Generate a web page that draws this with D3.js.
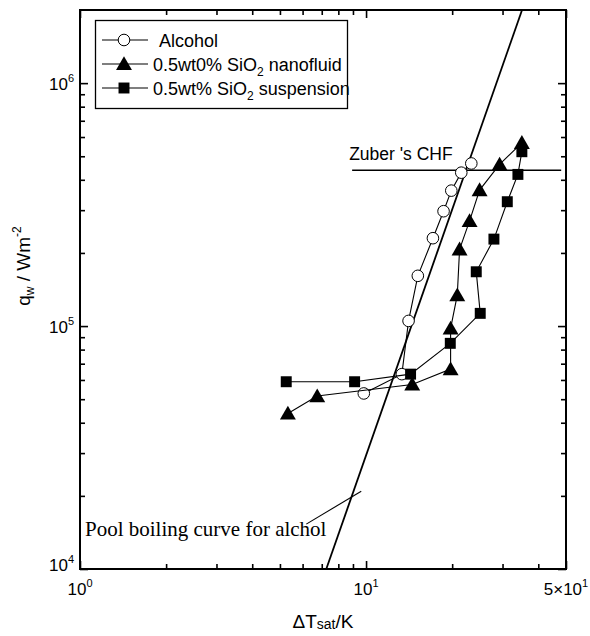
<!DOCTYPE html>
<html>
<head>
<meta charset="utf-8">
<script src="https://cdn.jsdelivr.net/npm/d3@7"></script>
<style>
  body { margin: 0; background: #fff; }
  svg { display: block; font-family: "Liberation Sans", Arial, sans-serif; }
</style>
</head>
<body>
<svg id="chart"></svg>
<script>
// values
const alcoholDT = [9.82, 13.34, 14.08, 15.17, 17.13, 18.66, 19.86, 21.52, 23.33];
const alcoholQ = [5.28e4, 6.34e4, 1.05e5, 1.61e5, 2.30e5, 2.97e5, 3.61e5, 4.28e5, 4.67e5];

const nanoDT = [5.33, 6.75, 14.5, 19.75, 19.75, 20.84, 21.23, 23.01, 24.94, 29.3, 35.05];
const nanoQ = [4.37e4, 5.15e4, 5.75e4, 6.65e4, 9.78e4, 1.34e5, 2.07e5, 2.71e5, 3.63e5, 4.63e5, 5.68e5];

const suspDT = [5.26, 9.12, 14.31, 19.7, 25.07, 24.28, 27.99, 31.17, 33.95, 35.05];
const suspQ = [5.9e4, 5.9e4, 6.34e4, 8.49e4, 1.128e5, 1.673e5, 2.28e5, 3.25e5, 4.21e5, 5.22e5];

const poolDT = [7.26, 35.1];
const poolQ = [1e4, 2e6];
const poolLeaderDT = [6.18, 9.62];
const poolLeaderQ = [1.53e4, 2.09e4];

const zuberDT = [8.94, 48.1];
const zuberQ = [4.38e5, 4.38e5];

const xMajor = [1, 10, 50];
const xMajorLabels = [["10", "0"], ["10", "1"], ["5\u00d710", "1"]];
const xMinor = [2, 3, 4, 5, 6, 7, 8, 9, 20, 30, 40];
const yMajor = [1e4, 1e5, 1e6];
const yMajorLabels = [["10", "4"], ["10", "5"], ["10", "6"]];
const yMinor = [2e4, 3e4, 4e4, 5e4, 6e4, 7e4, 8e4, 9e4, 2e5, 3e5, 4e5, 5e5, 6e5, 7e5, 8e5, 9e5];

const legendNames = ["Alcohol", "0.5wt0% SiO", "0.5wt% SiO"];

const W = 590, H = 636;
const margin = { top: 10, right: 24, bottom: 67, left: 80 };
const width = W - margin.left - margin.right;
const height = H - margin.top - margin.bottom;

const svg = d3.select("#chart").attr("width", W).attr("height", H);
const g = svg.append("g").attr("transform", "translate(" + margin.left + "," + margin.top + ")");

const x = d3.scaleLog().domain([1, 50]).range([0, width]);
const y = d3.scaleLog().domain([1e4, 2e6]).range([height, 0]);

// ticks on all four sides, pointing inwards
function tickAxis(axisFn, scale, vals, size, tr) {
  const a = g.append("g")
    .attr("transform", tr)
    .call(axisFn(scale).tickValues(vals).tickSize(size).tickFormat(""));
  a.select(".domain").remove();
  a.selectAll("line").attr("stroke", "#000").attr("stroke-width", 1.6);
}
tickAxis(d3.axisTop, x, xMajor, 8, "translate(0," + height + ")");
tickAxis(d3.axisTop, x, xMinor, 5, "translate(0," + height + ")");
tickAxis(d3.axisBottom, x, xMajor, 8, "translate(0,0)");
tickAxis(d3.axisBottom, x, xMinor, 5, "translate(0,0)");
tickAxis(d3.axisRight, y, yMajor, 8, "translate(0,0)");
tickAxis(d3.axisRight, y, yMinor, 5, "translate(0,0)");
tickAxis(d3.axisLeft, y, yMajor, 8, "translate(" + width + ",0)");
tickAxis(d3.axisLeft, y, yMinor, 5, "translate(" + width + ",0)");

g.append("rect")
  .attr("width", width).attr("height", height)
  .attr("fill", "none").attr("stroke", "#000").attr("stroke-width", 2);

// tick labels
xMajor.forEach((v, i) => {
  const t = g.append("text")
    .attr("x", x(v)).attr("y", height + 26)
    .attr("text-anchor", "middle").attr("font-size", 17);
  t.append("tspan").text(xMajorLabels[i][0]);
  t.append("tspan").attr("dy", -8).attr("font-size", 11).text(xMajorLabels[i][1]);
});
yMajor.forEach((v, i) => {
  const t = g.append("text")
    .attr("x", -6).attr("y", y(v) + (v === 1e4 ? 2 : 7))
    .attr("text-anchor", "end").attr("font-size", 17);
  t.append("tspan").text(yMajorLabels[i][0]);
  t.append("tspan").attr("dy", -8).attr("font-size", 11).text(yMajorLabels[i][1]);
});

// axis titles
const xt = svg.append("text")
  .attr("x", margin.left + width / 2).attr("y", 628)
  .attr("text-anchor", "middle").attr("font-size", 19);
xt.append("tspan").text("\u0394T");
xt.append("tspan").attr("font-size", 14).attr("dy", 1).text("sat");
xt.append("tspan").attr("dy", -1).text("/K");

const yt = svg.append("text")
  .attr("transform", "translate(30,266) rotate(-90)")
  .attr("text-anchor", "middle").attr("font-size", 19);
yt.append("tspan").text("q");
yt.append("tspan").attr("font-size", 12).attr("dy", 4).text("w");
yt.append("tspan").attr("dy", -4).text(" / Wm");
yt.append("tspan").attr("font-size", 12).attr("dy", -9).text("-2");

const line = d3.line().x(d => x(d[0])).y(d => y(d[1]));
const pairs = (a, b) => a.map((v, i) => [v, b[i]]);

// pool boiling curve and Zuber CHF
g.append("path").attr("d", line(pairs(poolDT, poolQ)))
  .attr("fill", "none").attr("stroke", "#000").attr("stroke-width", 1.8);
g.append("path").attr("d", line(pairs(poolLeaderDT, poolLeaderQ)))
  .attr("fill", "none").attr("stroke", "#000").attr("stroke-width", 1.1);
g.append("path").attr("d", line(pairs(zuberDT, zuberQ)))
  .attr("fill", "none").attr("stroke", "#000").attr("stroke-width", 1.3);

g.append("text")
  .attr("x", x(zuberDT[0]) - 3).attr("y", y(zuberQ[0]) - 10)
  .attr("font-size", 17.5).text("Zuber 's CHF");
g.append("text")
  .attr("x", 5).attr("y", y(poolLeaderQ[0]) + 12)
  .attr("font-family", "'Liberation Serif', 'Times New Roman', serif")
  .attr("font-size", 21).text("Pool boiling curve for alchol");

// series
const tri = d3.symbol().type(d3.symbolTriangle).size(110);
const sq = d3.symbol().type(d3.symbolSquare).size(120);

function series(dt, q, kind) {
  const pts = pairs(dt, q);
  g.append("path").attr("d", line(pts))
    .attr("fill", "none").attr("stroke", "#000").attr("stroke-width", 1.1);
  const m = g.append("g").selectAll("path").data(pts).enter();
  if (kind === "circle") {
    m.append("circle")
      .attr("cx", d => x(d[0])).attr("cy", d => y(d[1])).attr("r", 5.8)
      .attr("fill", "#fff").attr("stroke", "#000").attr("stroke-width", 1);
  } else {
    m.append("path")
      .attr("transform", d => "translate(" + x(d[0]) + "," + (y(d[1]) + (kind === "tri" ? 1.5 : 0)) + ")")
      .attr("d", kind === "tri" ? tri : sq)
      .attr("fill", "#000");
  }
}
series(alcoholDT, alcoholQ, "circle");
series(nanoDT, nanoQ, "tri");
series(suspDT, suspQ, "square");

// legend
const leg = svg.append("g");
leg.append("rect")
  .attr("x", 95.5).attr("y", 20.5).attr("width", 252).attr("height", 88)
  .attr("fill", "#fff").attr("stroke", "#000").attr("stroke-width", 1.3);
const rowsY = [40, 64, 88];
const kinds = ["circle", "tri", "square"];
rowsY.forEach((ry, i) => {
  leg.append("line").attr("x1", 102).attr("x2", 148).attr("y1", ry).attr("y2", ry)
    .attr("stroke", "#000").attr("stroke-width", 1.1);
  if (kinds[i] === "circle") {
    leg.append("circle").attr("cx", 124).attr("cy", ry).attr("r", 5.8)
      .attr("fill", "#fff").attr("stroke", "#000");
  } else {
    leg.append("path")
      .attr("transform", "translate(124," + (ry + (kinds[i] === "tri" ? 1.5 : 0)) + ")")
      .attr("d", kinds[i] === "tri" ? tri : sq).attr("fill", "#000");
  }
  const t = leg.append("text").attr("x", i === 0 ? 159 : 153).attr("y", ry + 6.5)
    .attr("font-size", 18);
  t.append("tspan").text(legendNames[i]);
  if (i > 0) {
    t.append("tspan").attr("font-size", 12).attr("dy", 5).text("2");
    t.append("tspan").attr("dy", -5).text(i === 1 ? " nanofluid" : "  suspension");
  }
});
</script>
</body>
</html>
